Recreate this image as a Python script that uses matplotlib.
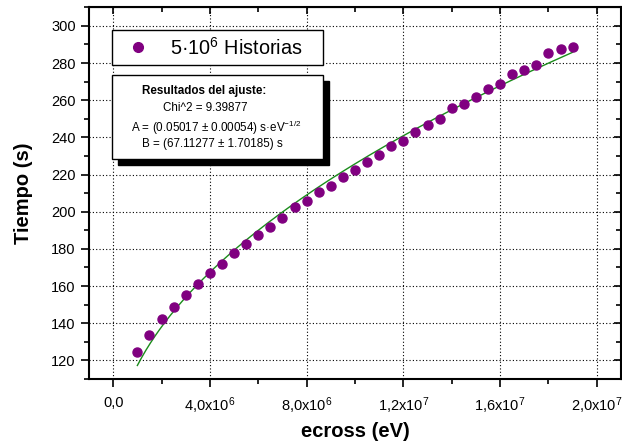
import numpy as np
import matplotlib
matplotlib.use("Agg")
import matplotlib.pyplot as plt
from matplotlib.ticker import MultipleLocator, FuncFormatter
from matplotlib.patches import Rectangle
from matplotlib.lines import Line2D

plt.rcParams['font.family'] = ['Liberation Sans', 'DejaVu Sans']
plt.rcParams['mathtext.fontset'] = 'custom'
plt.rcParams['mathtext.rm'] = 'Liberation Sans'
plt.rcParams['mathtext.default'] = 'regular'

# energia de corte (eV)
ecross = [1.0e6, 1.5e6, 2.0e6, 2.5e6, 3.0e6, 3.5e6, 4.0e6, 4.5e6, 5.0e6, 5.5e6,
          6.0e6, 6.5e6, 7.0e6, 7.5e6, 8.0e6, 8.5e6, 9.0e6, 9.5e6, 1.0e7, 1.05e7,
          1.1e7, 1.15e7, 1.2e7, 1.25e7, 1.3e7, 1.35e7, 1.4e7, 1.45e7, 1.5e7, 1.55e7,
          1.6e7, 1.65e7, 1.7e7, 1.75e7, 1.8e7, 1.85e7, 1.9e7]
# tiempo de simulacion (s)
tiempo = [124.7, 133.9, 142.4, 148.8, 155.1, 161.0, 166.9, 171.9, 177.7, 182.5,
          187.3, 191.6, 196.7, 202.5, 205.6, 210.6, 213.8, 218.6, 222.6, 226.7,
          230.6, 235.3, 238.1, 243.0, 246.9, 249.9, 255.9, 257.9, 261.8, 266.1,
          268.7, 274.3, 276.5, 279.0, 285.2, 287.7, 288.5]

# parametros del ajuste  t = A*sqrt(E) + B
A_fit = 0.05017
B_fit = 67.11277

W, H = 622, 443
fig = plt.figure(figsize=(W / 100, H / 100), dpi=100)
ax = fig.add_axes([89 / W, 1 - 379 / H, (621 - 89) / W, (379 - 7.3) / H])

purple = '#800080'
ax.plot(ecross, tiempo, 'o', color=purple, markersize=6.5, zorder=3)

xfit = np.linspace(ecross[0], ecross[-1], 200)
ax.plot(xfit, A_fit * np.sqrt(xfit) + B_fit, color='#1a8c1a', lw=1.0, zorder=2)

ax.set_xlim(-1e6, 2.1e7)
ax.set_ylim(110, 310)

ax.xaxis.set_major_locator(MultipleLocator(4e6))
ax.xaxis.set_minor_locator(MultipleLocator(2e6))
ax.yaxis.set_major_locator(MultipleLocator(20))
ax.yaxis.set_minor_locator(MultipleLocator(10))


def fmt_x(v, pos):
    if abs(v) < 1:
        return "0,0"
    e = int(np.floor(np.log10(abs(v))))
    m = v / 10 ** e
    return ("%.1f" % m).replace(".", ",") + "x10$^{%d}$" % e


ax.xaxis.set_major_formatter(FuncFormatter(fmt_x))
ax.tick_params(which='major', direction='out', length=6, width=1.2, labelsize=10.5)
ax.tick_params(which='minor', direction='out', length=3.5, width=1.2)
ax.tick_params(axis='x', pad=6)

for s in ax.spines.values():
    s.set_linewidth(1.5)

ax.grid(True, which='major', color='black', linestyle=(0, (1, 2)), linewidth=0.8)
ax.set_axisbelow(True)

# ticks hacia dentro en los ejes opuestos
top = ax.secondary_xaxis('top')
top.xaxis.set_major_locator(MultipleLocator(4e6))
top.xaxis.set_minor_locator(MultipleLocator(2e6))
top.tick_params(which='both', direction='in', labeltop=False, width=1.2)
top.tick_params(which='major', length=5)
top.tick_params(which='minor', length=3.5)
right = ax.secondary_yaxis('right')
right.yaxis.set_major_locator(MultipleLocator(20))
right.yaxis.set_minor_locator(MultipleLocator(10))
right.tick_params(which='both', direction='in', labelright=False, width=1.2)
right.tick_params(which='major', length=5)
right.tick_params(which='minor', length=3.5)

ax.set_xlabel("ecross (eV)", fontsize=14.5, fontweight='bold', labelpad=4)
ax.set_ylabel("Tiempo (s)", fontsize=14.5, fontweight='bold', labelpad=13)

# leyenda, ocupa el ancho de la caja de resultados
h = Line2D([], [], marker='o', linestyle='none', color=purple, markersize=7)
leg = ax.legend(handles=[h], labels=["5\u00b710$^{6}$ Historias"], loc='upper left',
                bbox_to_anchor=(0.0427, 0.8225, 0.3966, 0.1165), mode='expand',
                borderaxespad=0, fontsize=14.3,
                frameon=True, fancybox=False, edgecolor='black', framealpha=1,
                borderpad=0.33, handlelength=2.0, handletextpad=0.6)
leg.get_frame().set_linewidth(1.0)

# caja de resultados con sombra
bx, by, bw, bh = 0.0427, 0.5911, 0.3966, 0.2268
ax.add_patch(Rectangle((bx + 0.0113, by - 0.0161), bw, bh, transform=ax.transAxes,
                       facecolor='black', edgecolor='black', zorder=5))
ax.add_patch(Rectangle((bx, by), bw, bh, transform=ax.transAxes,
                       facecolor='white', edgecolor='black', lw=1.0, zorder=6))
fs = 8.4
ax.text(0.216, 0.775, "Resultados del ajuste:", transform=ax.transAxes,
        ha='center', va='center', fontsize=fs, fontweight='bold', zorder=7)
ax.text(0.219, 0.730, "Chi^2 = 9.39877", transform=ax.transAxes,
        ha='center', va='center', fontsize=fs, zorder=7)
ax.text(0.240, 0.6745, "A = (0.05017 \u00b1 0.00054) s\u00b7eV$^{-1/2}$",
        transform=ax.transAxes, ha='center', va='center', fontsize=fs, zorder=7)
ax.text(0.231, 0.6314, "B = (67.11277 \u00b1 1.70185) s", transform=ax.transAxes,
        ha='center', va='center', fontsize=fs, zorder=7)

fig.savefig("out.png", dpi=100)
